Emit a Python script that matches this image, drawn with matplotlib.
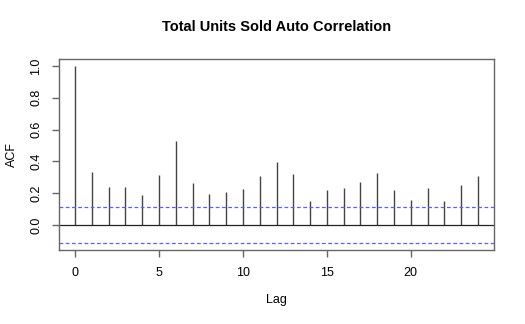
import numpy as np
import matplotlib
matplotlib.use('Agg')
import matplotlib.pyplot as plt

# autocorrelation of total units sold, lags 0..24
lags = list(range(25))
acf_vals = [1.000, 0.332, 0.242, 0.238, 0.187, 0.313, 0.527, 0.263, 0.198,
            0.206, 0.229, 0.309, 0.399, 0.319, 0.154, 0.223, 0.233, 0.271,
            0.326, 0.219, 0.158, 0.233, 0.149, 0.252, 0.309]
conf = 0.113  # 95% white-noise bound

plt.rcParams['font.family'] = ['Liberation Sans', 'DejaVu Sans']

fig = plt.figure(figsize=(5.25, 3.24), dpi=100)
ax = fig.add_axes([59/525, 1 - 250/324, 435/525, 191/324])

ax.vlines(lags, 0, acf_vals, color='#444444', lw=1.0)
ax.axhline(0, color='#222222', lw=0.9)
ax.axhline(conf, color='#6060f0', lw=0.9, ls=(0, (3, 2)))
ax.axhline(-conf, color='#6060f0', lw=0.9, ls=(0, (3, 2)))

span_x = lags[-1] - lags[0]
ax.set_xlim(lags[0] - 0.04 * span_x, lags[-1] + 0.04 * span_x)
lo, hi = -conf, max(acf_vals)
ax.set_ylim(lo - 0.04 * (hi - lo), hi + 0.04 * (hi - lo))

ax.set_xticks([0, 5, 10, 15, 20])
ax.set_yticks([0.0, 0.2, 0.4, 0.6, 0.8, 1.0])
ax.set_yticklabels(['0.0', '0.2', '0.4', '0.6', '0.8', '1.0'], rotation=90, va='center')

for s in ax.spines.values():
    s.set_color('#666666')
    s.set_linewidth(1.0)
ax.tick_params(axis='both', labelsize=9, color='#666666', length=5, width=1.0, pad=7)

ax.set_xlabel('Lag', fontsize=9, labelpad=11)
ax.set_ylabel('ACF', fontsize=9, labelpad=9)
# title centred over the plot region
ax.set_title('Total Units Sold Auto Correlation', fontsize=10.5, fontweight='bold', pad=20)

fig.savefig('out.png', dpi=100, facecolor='white')
